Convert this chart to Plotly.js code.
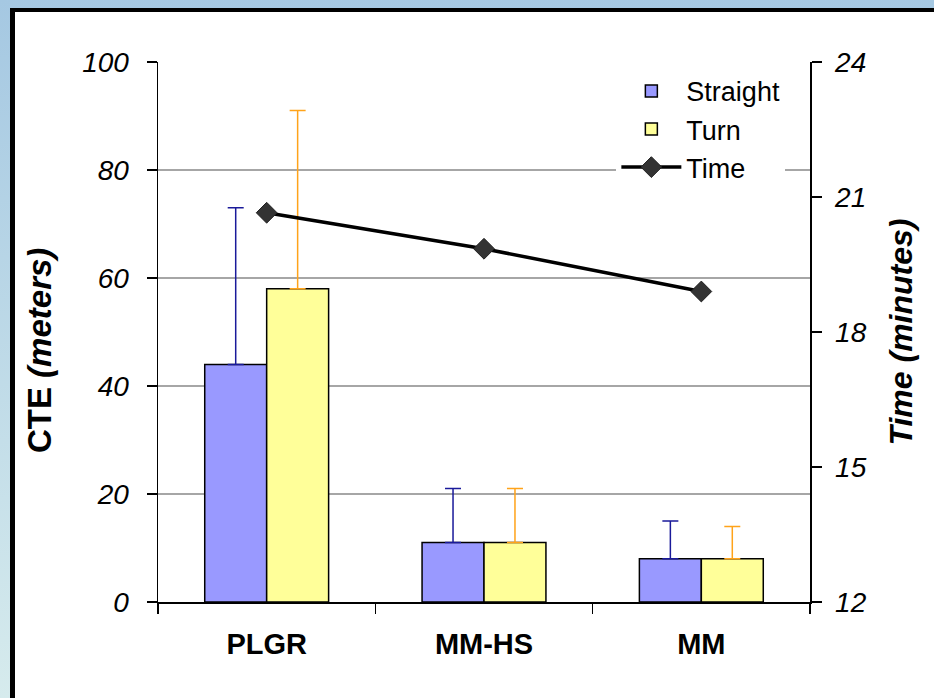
<!DOCTYPE html>
<html>
<head>
<meta charset="utf-8">
<script src="https://cdn.plot.ly/plotly-3.0.1.min.js"></script>
<style>
  html, body { margin:0; padding:0; width:934px; height:698px; overflow:hidden; }
  body { background: linear-gradient(to bottom, #a5c8e2, #d6ebed); position:relative; }
  #frame { position:absolute; left:10px; top:8px; width:1000px; height:800px;
           background:#ffffff; border-left:5px solid #000; border-top:4px solid #000; }
  #chart { position:absolute; left:0; top:0; width:934px; height:698px; }
</style>
</head>
<body>
<div id="frame"></div>
<div id="chart"></div>
<script>
const categories = ['PLGR', 'MM-HS', 'MM'];
const straight = [44, 11, 8];
const straightErr = [29, 10, 7];
const turn = [58, 11, 8];
const turnErr = [33, 10, 6];
const timeMinutes = [20.65, 19.85, 18.9];
const leftTicks = [0, 20, 40, 60, 80, 100];
const rightTicks = [12, 15, 18, 21, 24];

const FONT = 'Liberation Sans, Arial, sans-serif';

const traces = [
  {
    type: 'bar', name: 'Straight', x: categories, y: straight,
    marker: { color: '#9999ff', line: { color: '#000', width: 1.5 } },
    error_y: { type: 'data', symmetric: false, array: straightErr, arrayminus: [0,0,0],
               color: '#1a1a9a', thickness: 1.5, width: 8 }
  },
  {
    type: 'bar', name: 'Turn', x: categories, y: turn,
    marker: { color: '#ffff99', line: { color: '#000', width: 1.5 } },
    error_y: { type: 'data', symmetric: false, array: turnErr, arrayminus: [0,0,0],
               color: '#ffa31a', thickness: 1.5, width: 8 }
  },
  {
    type: 'scatter', mode: 'lines+markers', name: 'Time', x: categories, y: timeMinutes,
    yaxis: 'y2',
    line: { color: '#000', width: 3.5 },
    marker: { symbol: 'diamond', size: 16, color: '#333333', line: { color: '#222', width: 1 } }
  }
];

const layout = {
  width: 934, height: 698,
  paper_bgcolor: 'rgba(0,0,0,0)', plot_bgcolor: 'rgba(0,0,0,0)',
  margin: { l: 158, r: 124, t: 62, b: 96 },
  font: { family: FONT, color: '#000' },
  barmode: 'group', bargap: 0.43, bargroupgap: 0,
  showlegend: true,
  legend: {
    x: 0.703, xanchor: 'left', y: 0.991, yanchor: 'top',
    bgcolor: '#ffffff', borderwidth: 0,
    font: { family: FONT, size: 27, color: '#000' },
    traceorder: 'normal', tracegroupgap: 0, itemwidth: 60
  },
  xaxis: {
    type: 'category',
    showline: true, linecolor: '#000', linewidth: 1.5,
    ticks: 'outside', tickson: 'boundaries', ticklen: 10, tickcolor: '#000', tickwidth: 1.5,
    tickfont: { family: FONT, size: 29, weight: 'bold' },
    ticklabelstandoff: 16,
    showgrid: false, zeroline: false, fixedrange: true
  },
  yaxis: {
    range: [0, 100], tickvals: leftTicks, ticktext: leftTicks.map(String),
    showline: true, linecolor: '#000', linewidth: 1.5,
    ticks: 'outside', ticklen: 10, tickcolor: '#000', tickwidth: 1.5,
    tickfont: { family: FONT, size: 28, style: 'italic' },
    ticklabelstandoff: 12,
    showgrid: true, gridcolor: '#a6a6a6', gridwidth: 1.5, zeroline: false,
    title: { text: '<b>CTE <i>(meters)</i></b>&nbsp;&nbsp;&nbsp;&nbsp;', font: { family: FONT, size: 33 }, standoff: 20 }
  },
  yaxis2: {
    overlaying: 'y', side: 'right',
    range: [12, 24], tickvals: rightTicks, ticktext: rightTicks.map(String),
    showline: true, linecolor: '#000', linewidth: 1.5,
    ticks: 'outside', ticklen: 10, tickcolor: '#000', tickwidth: 1.5,
    tickfont: { family: FONT, size: 28, style: 'italic' },
    ticklabelstandoff: 8,
    showgrid: false, zeroline: false,
    title: { text: '<b><i>Time (minutes)</i></b>', font: { family: FONT, size: 32 }, standoff: 24 }
  }
};

Plotly.newPlot('chart', traces, layout, { displayModeBar: false, staticPlot: true });
</script>
</body>
</html>
